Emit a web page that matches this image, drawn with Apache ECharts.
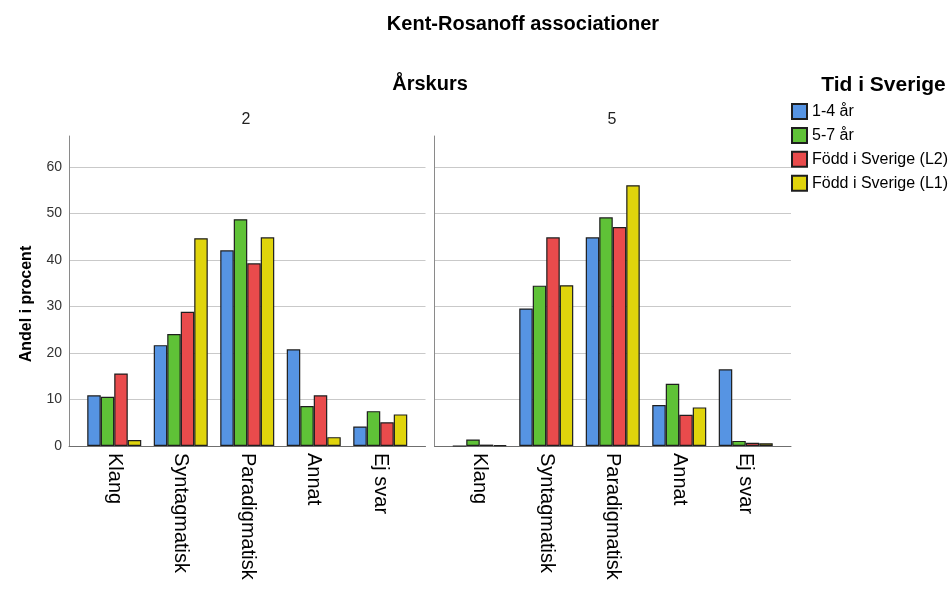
<!DOCTYPE html>
<html>
<head>
<meta charset="utf-8">
<script src="https://cdn.jsdelivr.net/npm/echarts@6/dist/echarts.min.js"></script>
<style>
  html, body { margin: 0; padding: 0; background: #fff; }
  #chart { width: 951px; height: 590px; }
</style>
</head>
<body>
<div id="chart"></div>
<script>
// Response categories on the x axis
const categories = ['Klang', 'Syntagmatisk', 'Paradigmatisk', 'Annat', 'Ej svar'];
// Groups (time in Sweden)
const groups = ['1-4 år', '5-7 år', 'Född i Sverige (L2)', 'Född i Sverige (L1)'];
// Panels (school year)
const panels = ['2', '5'];

// Percent per category, school year 2
const y2_14 = [10.9, 21.7, 42.1, 20.8, 4.2];
const y2_57 = [10.6, 24.1, 48.8, 8.6, 7.5];
const y2_L2 = [15.6, 28.9, 39.3, 10.9, 5.1];
const y2_L1 = [1.3, 44.7, 44.9, 1.9, 6.8];

// Percent per category, school year 5
const y5_14 = [0, 29.6, 44.9, 8.8, 16.5];
const y5_57 = [1.4, 34.5, 49.2, 13.4, 1.1];
const y5_L2 = [0.3, 44.9, 47.1, 6.7, 0.7];
const y5_L1 = [0.2, 34.6, 56.1, 8.3, 0.6];

const panelData = [[y2_14, y2_57, y2_L2, y2_L1], [y5_14, y5_57, y5_L2, y5_L1]];

const colors = ['#5694e3', '#5fc237', '#e94b4c', '#e0d40c'];
const FONT = '"Liberation Sans", Arial, sans-serif';

const Y_MAX = 66.7;
const Y_INTERVAL = 10;

// panel geometry
const panelLeft = [69, 434.5];
const panelWidth = 356.5;
const innerPad = 12;
const gridTop = 136;
const gridBottom = 590 - 446;

const chart = echarts.init(document.getElementById('chart'), null, { renderer: 'canvas' });

const grid = [], xAxis = [], yAxis = [], series = [];

panels.forEach((p, pi) => {
  // outer frame: y axis, gridlines, baseline
  grid.push({ left: panelLeft[pi], width: panelWidth, top: gridTop, bottom: gridBottom, containLabel: false });
  // inner band area for the bars
  grid.push({ left: panelLeft[pi] + innerPad, width: panelWidth - 2 * innerPad, top: gridTop, bottom: gridBottom, containLabel: false });
  const outer = pi * 2, inner = pi * 2 + 1;

  xAxis.push({
    gridIndex: outer, type: 'category', data: categories,
    axisLine: { show: true, lineStyle: { color: '#6f6f6f', width: 1 } },
    axisTick: { show: false }, axisLabel: { show: false }, splitLine: { show: false }
  });
  xAxis.push({
    gridIndex: inner, type: 'category', data: categories,
    axisLine: { show: false }, axisTick: { show: false }, splitLine: { show: false },
    axisLabel: {
      show: true, rotate: -90, margin: 7, interval: 0,
      color: '#000', fontFamily: FONT, fontSize: 20
    }
  });

  yAxis.push({
    gridIndex: outer, type: 'value', min: 0, max: Y_MAX, interval: Y_INTERVAL,
    axisLine: { show: true, lineStyle: { color: '#8a8a8a', width: 1 } },
    axisTick: { show: false },
    axisLabel: {
      show: pi === 0, showMaxLabel: false, margin: 7,
      color: '#333', fontFamily: FONT, fontSize: 14
    },
    splitLine: { show: true, showMaxLine: false, lineStyle: { color: '#c9c9c9', width: 1 } }
  });
  yAxis.push({
    gridIndex: inner, type: 'value', min: 0, max: Y_MAX, interval: Y_INTERVAL,
    show: false, splitLine: { show: false }
  });

  groups.forEach((g, gi) => {
    series.push({
      name: g, type: 'bar', xAxisIndex: inner, yAxisIndex: inner,
      data: panelData[pi][gi],
      barGap: '0%', barCategoryGap: '18.8%',
      itemStyle: { color: colors[gi], borderColor: '#1e1e1e', borderWidth: 1.2 },
      emphasis: { disabled: true },
      animation: false
    });
  });
});

chart.setOption({
  animation: false,
  grid, xAxis, yAxis, series,
  legend: {
    data: groups, orient: 'vertical', left: 791, top: 103, padding: 0,
    icon: 'rect', itemWidth: 15, itemHeight: 15, itemGap: 6.9,
    textStyle: { fontFamily: FONT, fontSize: 16, color: '#000' },
    selectedMode: false
  },
  graphic: [
    { type: 'text', x: 523, y: 24, style: { text: 'Kent-Rosanoff associationer', align: 'center', verticalAlign: 'middle', font: 'bold 20px ' + FONT, fill: '#000' } },
    { type: 'text', x: 430, y: 84, style: { text: 'Årskurs', align: 'center', verticalAlign: 'middle', font: 'bold 20px ' + FONT, fill: '#000' } },
    { type: 'text', x: 246, y: 120, style: { text: panels[0], align: 'center', verticalAlign: 'middle', font: '16px ' + FONT, fill: '#222' } },
    { type: 'text', x: 612, y: 120, style: { text: panels[1], align: 'center', verticalAlign: 'middle', font: '16px ' + FONT, fill: '#222' } },
    { type: 'text', x: 883.5, y: 85, style: { text: 'Tid i Sverige', align: 'center', verticalAlign: 'middle', font: 'bold 21px ' + FONT, fill: '#000' } },
    { type: 'text', x: 27, y: 304, rotation: Math.PI / 2, style: { text: 'Andel i procent', align: 'center', verticalAlign: 'middle', font: 'bold 16px ' + FONT, fill: '#000' } }
  ]
});
</script>
</body>
</html>
